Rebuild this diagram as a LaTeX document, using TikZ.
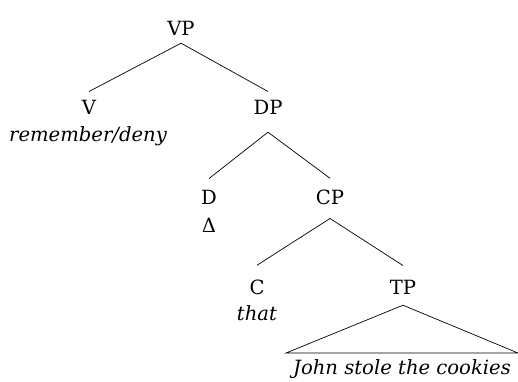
\documentclass[tikz,border=0pt]{standalone}
\usepackage{fontspec}
\setmainfont{DejaVu Serif}
\begin{document}
\begin{tikzpicture}[x=1pt,y=-1pt,
  lab/.style={inner sep=0pt, anchor=base, font=\fontsize{19.6}{24}\selectfont},
  br/.style={line width=0.7pt}]
\useasboundingbox (0,0) rectangle (518,381);
\node[lab] (VP) at (181,35) {VP};
\node[lab] (V) at (89,114) {V};
\node[lab] (Vw) at (88,141) {\itshape remember/deny};
\node[lab] (DP) at (268,114) {DP};
\node[lab] (D) at (209,204) {D};
\node[lab] (Dd) at (209,232) {Δ};
\node[lab] (CP) at (330,204) {CP};
\node[lab] (C) at (257,294) {C};
\node[lab] (Cw) at (257,320) {\itshape that};
\node[lab] (TP) at (403,294) {TP};
\node[lab] (T) at (402,374) {\itshape John stole the cookies};
\coordinate (tl) at (286,353);
\coordinate (tr) at (518,353);
\draw[br] ([yshift=-8pt]VP.south) -- ([yshift=8pt]V.north);
\draw[br] ([yshift=-8pt]VP.south) -- ([yshift=8pt]DP.north);
\draw[br] ([yshift=-18pt]DP.south) -- ([yshift=11pt]D.north);
\draw[br] ([yshift=-18pt]DP.south) -- ([yshift=11pt]CP.north);
\draw[br] ([yshift=-14pt]CP.south) -- ([yshift=14pt]C.north);
\draw[br] ([yshift=-14pt]CP.south) -- ([yshift=14pt]TP.north);
\draw[br] ([yshift=-11pt]TP.south) -- (tl) -- (tr) -- cycle;
\end{tikzpicture}
\end{document}
